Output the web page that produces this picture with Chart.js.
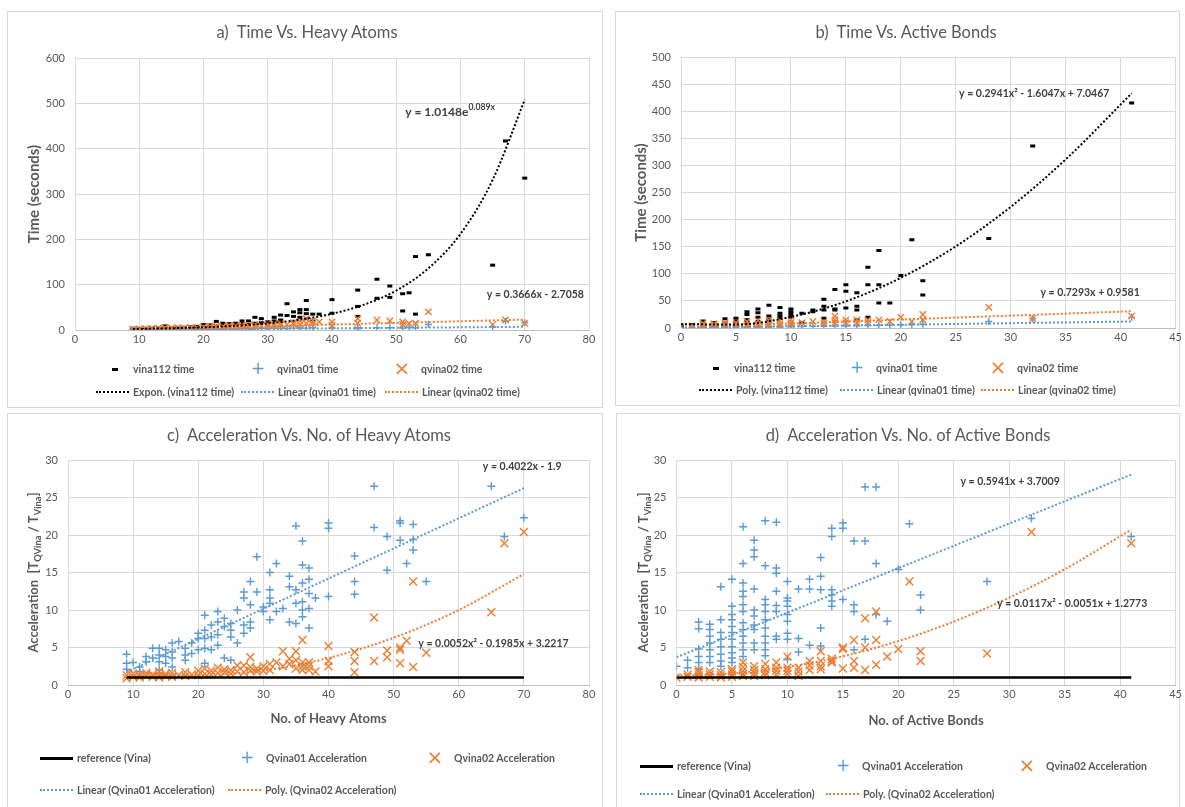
<!DOCTYPE html>
<html>
<head>
<meta charset="utf-8">
<script src="https://cdn.jsdelivr.net/npm/chart.js@4.4.1/dist/chart.umd.min.js"></script>
<style>
  body { margin: 0; background: #fff; }
  #page { position: relative; width: 1185px; height: 807px; overflow: hidden; font-family: Lato, "Open Sans", sans-serif; }
  .panel { position: absolute; border: 1px solid #D9D9D9; box-sizing: border-box; }
  canvas { position: absolute; }
  .ttl { position: absolute; font-size: 16.5px; color: #595959; white-space: nowrap; transform: translate(-50%, -50%); }
  .lg { position: absolute; font-size: 10.5px; font-weight: bold; color: #595959; white-space: nowrap; line-height: 14px; }
  .ln { position: absolute; height: 0; }
  .mk { position: absolute; line-height: 14px; transform: translate(-50%, 0); }
</style>
</head>
<body>
<div id="page">
  <div class="panel" style="left:7px;top:11px;width:596px;height:397px"></div>
  <div class="panel" style="left:615px;top:11px;width:565px;height:395px"></div>
  <div class="panel" style="left:7px;top:413px;width:596px;height:400px"></div>
  <div class="panel" style="left:616px;top:413px;width:564px;height:400px"></div>

  <canvas id="chA" width="596" height="397" style="left:7px;top:11px"></canvas>
  <canvas id="chB" width="570" height="395" style="left:615px;top:11px"></canvas>
  <canvas id="chC" width="596" height="394" style="left:7px;top:413px"></canvas>
  <canvas id="chD" width="569" height="394" style="left:616px;top:413px"></canvas>

  <div class="ttl" style="left:307px;top:32px">a)&nbsp; Time Vs. Heavy Atoms</div>
  <div class="ttl" style="left:906px;top:32px">b)&nbsp; Time Vs. Active Bonds</div>
  <div class="ttl" style="left:309px;top:435px">c)&nbsp; Acceleration Vs. No. of Heavy Atoms</div>
  <div class="ttl" style="left:908px;top:435px">d)&nbsp; Acceleration Vs. No. of Active Bonds</div>
</div>

<script>
// ---- colours (Excel defaults)
const BLUE = '#5B9BD5';
const ORANGE = '#ED7D31';
const GRID = '#D9D9D9';
const TXT = '#595959';
const FONT = 'Lato, "Open Sans", sans-serif';

// ---- a) time vs heavy atoms  [heavy atoms, seconds]
const vinaTimeHA = [[9,1.5],[9,2.5],[10,1.8],[10,3],[11,2.2],[11,3.5],[12,2.5],[12,4],[13,3],[13,5],[14,3.5],[14,9],
  [15,3],[15,5],[16,4],[16,6],[17,4],[17,6],[18,5],[18,7],[19,6],[19,8],[20,7],[20,12],[21,8],[21,11],[22,9],[22,19],
  [23,10],[23,15],[24,11],[24,14],[25,10],[25,15],[26,14],[26,20],[27,12],[27,20],[28,15],[28,28],[29,16],[29,25],
  [30,18],[30,15],[31,20],[31,28],[32,22],[32,33],[33,58],[33,32],[34,30],[34,40],[35,45],[35,38],[35,28],[36,65],
  [36,45],[36,36],[36,25],[37,35],[37,20],[38,35],[40,67],[40,37],[44,88],[44,52],[44,30],[47,112],[47,70],[49,97],
  [49,72],[51,80],[51,42],[52,82],[53,162],[53,35],[55,166],[65,143],[67,417],[70,335]];
const qv01TimeHA = [[9,0.5],[9,1.2],[10,0.6],[11,0.8],[12,0.7],[13,1],[14,1.2],[15,0.9],[16,1.3],[17,1.1],[18,1.6],
  [19,1.4],[20,2],[21,1.8],[22,2.5],[23,2.2],[24,2.6],[25,2.4],[26,3],[27,2.8],[28,3.2],[29,3.5],[30,3.3],[31,3.8],
  [32,4],[33,3.6],[34,4.2],[35,4.5],[36,4.1],[37,4.8],[40,4.5],[44,5.2],[44,2.5],[47,4.8],[49,5],[51,4.2],[52,5.5],
  [53,5],[55,12],[65,6.5],[67,20],[70,16]];
const qv02TimeHA = [[9,1],[9,2],[10,1.5],[10,2.5],[11,2],[11,3],[12,2],[12,3.5],[13,2.5],[13,4],[14,3],[14,5],[15,3],
  [15,4.5],[16,3.5],[16,5],[17,4],[18,4],[18,5.5],[19,4.5],[20,5],[20,7],[21,5],[21,8],[22,6],[22,9],[23,6],[23,8],
  [24,7],[24,10],[25,6],[25,9],[26,7],[26,11],[27,8],[27,10],[28,8],[28,12],[29,9],[30,10],[30,13],[31,10],[31,14],
  [32,11],[32,15],[33,12],[34,13],[34,16],[35,12],[35,20],[36,15],[36,25],[37,14],[37,20],[38,18],[40,10],[40,18],
  [44,15],[44,25],[47,22],[49,20],[51,18],[51,12],[52,14],[53,15],[55,40],[65,12],[67,22],[70,15]];
// trend lines
const expVinaHA = [[9,2.3],[15,3.9],[20,6.0],[25,9.4],[30,14.6],[35,22.9],[40,35.8],[45,56],[50,87],[55,136],[60,212],[65,331],[70,508]];
const linQv01HA = [[9,0.3],[70,7]];
const linQv02HA = [[9,0.6],[70,23]];

// ---- b) time vs active bonds  [active bonds, seconds]
const vinaTimeAB = [[0,3],[0,5],[1,4],[1,6],[2,7],[2,13],[2,4],[3,5],[3,10],[3,7],[4,10],[4,17],[4,6],[5,8],[5,12],
  [5,18],[6,10],[6,15],[6,25],[6,30],[7,12],[7,20],[7,28],[7,35],[8,15],[8,22],[8,42],[9,18],[9,22],[9,27],[9,38],
  [10,20],[10,25],[10,30],[10,35],[11,10],[11,27],[12,30],[12,33],[13,18],[13,33],[13,40],[13,53],[14,33],[14,35],
  [14,71],[15,37],[15,68],[15,80],[16,15],[16,33],[16,40],[16,65],[17,20],[17,80],[17,112],[18,46],[18,80],[18,143],
  [19,46],[20,97],[21,163],[22,61],[22,87],[28,165],[32,336],[41,415]];
const qv01TimeAB = [[0,0.5],[1,0.6],[2,0.8],[2,1.5],[3,1],[3,1.8],[4,1.2],[5,1.4],[5,2],[6,1.6],[6,2.5],[7,1.8],[7,2.8],
  [8,2],[8,3],[9,2.2],[9,3.2],[10,2.5],[10,3.5],[11,2.8],[12,3],[13,3.2],[14,3.5],[15,3.8],[16,4],[17,4.5],[18,5],
  [19,5],[20,6],[21,6.5],[22,7],[28,12],[32,17],[41,20]];
const qv02TimeAB = [[0,3],[1,2],[1,4],[2,2],[2,6],[2,9],[3,2],[3,6],[3,8],[4,3],[4,8],[4,10],[5,2],[5,5],[5,10],[6,3],
  [6,6],[6,12],[7,4],[7,8],[7,14],[8,5],[8,8],[8,14],[9,5],[9,8],[9,14],[10,6],[10,10],[10,15],[11,10],[12,12],[13,8],
  [13,12],[14,10],[14,15],[14,22],[15,10],[15,15],[16,10],[16,15],[17,10],[17,15],[18,15],[19,12],[20,20],[21,12],
  [22,15],[22,25],[28,38],[32,17],[41,22]];
const polyVinaAB = [[0,7.0],[5,6.4],[10,20.4],[15,49.1],[20,92.6],[25,150.7],[30,223.6],[35,311.1],[41,433]];
const linQv01AB = [[0,0.3],[41,12]];
const linQv02AB = [[0,1],[41,30.9]];

// ---- c) acceleration vs heavy atoms
const qv01AccHA = [[9,4.1],[9,2.9],[9,2.1],[10,3.0],[11,2.4],[11,1.8],[12,3.8],[12,3.1],[13,3.6],[13,4.9],[14,4.9],
  [14,4.0],[14,3.1],[14,2.0],[15,4.7],[15,3.8],[15,2.9],[16,5.6],[16,4.4],[16,3.6],[16,2.4],[17,5.8],[18,4.9],[18,4.0],
  [18,3.3],[19,5.6],[19,4.2],[20,6.2],[20,4.7],[20,6.9],[21,9.3],[21,7.3],[21,6.2],[21,4.9],[21,2.9],[22,8.0],[22,6.4],
  [22,4.7],[23,9.8],[23,8.4],[23,6.7],[23,5.3],[24,8.9],[24,7.8],[24,3.6],[25,8.2],[25,7.3],[25,6.4],[25,3.3],[26,10.0],
  [26,5.6],[27,12.4],[27,11.6],[27,8.0],[27,6.9],[28,13.8],[28,10.7],[28,8.4],[28,7.6],[29,17.1],[29,12.4],[30,10.4],
  [30,9.8],[31,15.0],[31,12.7],[31,11.6],[31,10.9],[31,8.7],[32,16.2],[32,9.8],[33,10.2],[34,14.5],[34,13.1],[34,8.4],
  [35,21.2],[35,12.7],[35,10.9],[35,8.2],[36,19.2],[36,16.0],[36,13.6],[36,11.1],[36,10.0],[36,9.1],[37,15.6],[37,14.1],
  [37,12.2],[37,10.2],[37,7.6],[38,11.6],[40,21.6],[40,20.9],[40,11.8],[44,17.2],[44,13.8],[44,12.1],[47,26.5],[47,21.0],
  [49,19.8],[49,15.3],[51,21.9],[51,21.6],[51,19.3],[52,16.2],[53,21.4],[53,19.4],[53,18.0],[55,13.8],[65,26.5],[67,19.8],
  [70,22.3]];
const qv02AccHA = [[9,0.9],[9,1.3],[10,1.1],[10,1.5],[11,1.0],[11,1.3],[12,1.2],[12,1.6],[13,1.1],[13,1.4],[14,1.0],
  [14,1.3],[14,1.8],[15,1.2],[15,1.5],[16,1.1],[16,1.6],[17,1.3],[18,1.2],[18,1.7],[19,1.4],[20,1.3],[20,1.9],[21,1.5],
  [21,2.2],[22,1.4],[22,1.9],[23,1.6],[23,2.3],[24,1.7],[24,2.1],[25,1.5],[25,2.0],[26,1.8],[26,2.6],[27,1.7],[27,2.6],
  [28,1.9],[28,2.4],[28,3.7],[29,1.8],[29,2.2],[30,1.9],[30,2.5],[31,2.0],[31,2.8],[32,3.0],[33,2.5],[33,4.5],[34,2.8],
  [34,3.5],[35,3.3],[35,2.2],[35,4.5],[36,2.0],[36,2.5],[36,3.0],[36,6.0],[37,3.0],[37,2.0],[37,2.5],[38,1.8],[40,5.2],
  [40,3.2],[40,2.5],[44,4.4],[44,3.2],[44,1.7],[47,9.0],[47,3.2],[49,4.6],[49,3.7],[51,5.0],[51,4.7],[51,2.9],[52,5.9],
  [53,13.8],[53,2.4],[55,4.3],[65,9.7],[67,18.9],[70,20.4]];
const refHA = [[9,1],[70,1]];
const linQv01AccHA = [[9,1.72],[70,26.25]];
const polyQv02AccHA = [[9,1.85],[20,1.33],[30,1.94],[40,3.6],[50,6.3],[60,10.0],[70,14.8]];

// ---- d) acceleration vs active bonds
const qv01AccAB = [[0,2.5],[1,3.3],[1,2.3],[2,8.4],[2,7.5],[2,4.8],[2,3.8],[2,3.0],[2,2.1],[3,8.1],[3,7.4],[3,6.5],
  [3,5.6],[3,4.7],[3,3.8],[3,3.0],[4,13.1],[4,8.7],[4,7.0],[4,6.1],[4,5.1],[4,4.1],[4,3.2],[4,2.5],[5,14.1],[5,10.5],
  [5,9.4],[5,8.7],[5,7.8],[5,7.0],[5,6.1],[5,5.1],[5,4.3],[5,3.6],[5,3.0],[6,21.1],[6,16.2],[6,13.6],[6,12.5],[6,11.8],
  [6,10.7],[6,9.8],[6,8.3],[6,7.4],[6,6.5],[6,5.6],[6,4.7],[6,3.8],[7,19.3],[7,18.0],[7,17.1],[7,12.8],[7,10.0],[7,9.2],
  [7,8.0],[7,7.4],[7,5.6],[7,4.7],[8,21.9],[8,15.9],[8,11.4],[8,10.7],[8,9.8],[8,8.7],[8,7.6],[8,6.5],[8,5.6],[8,4.7],
  [8,3.9],[9,21.7],[9,15.6],[9,14.9],[9,12.5],[9,10.6],[9,9.8],[9,6.5],[9,6.1],[10,13.8],[10,11.6],[10,11.2],[10,10.5],
  [10,9.4],[10,8.5],[10,6.9],[10,6.1],[10,3.4],[11,12.8],[11,6.2],[11,4.4],[12,14.1],[12,12.8],[12,5.3],[13,17.0],
  [13,14.5],[13,12.7],[13,7.6],[13,5.2],[14,20.9],[14,19.8],[14,12.7],[14,12.0],[14,11.2],[14,10.5],[15,21.6],[15,20.9],
  [15,11.4],[16,19.2],[16,10.7],[16,9.8],[16,4.7],[17,26.4],[17,19.2],[17,6.1],[18,26.4],[18,16.2],[18,9.4],[19,8.5],
  [20,15.4],[21,21.5],[22,12.0],[22,10.0],[28,13.8],[32,22.2],[41,19.8]];
const qv02AccAB = [[0,1.0],[1,1.1],[1,1.4],[2,1.0],[2,1.3],[2,1.7],[2,2.0],[3,1.1],[3,1.4],[3,1.8],[4,1.0],[4,1.3],
  [4,1.7],[5,1.1],[5,1.4],[5,1.8],[5,2.1],[6,1.2],[6,1.5],[6,1.9],[6,2.4],[6,3.0],[7,1.2],[7,1.6],[7,2.0],[7,2.5],[8,1.3],
  [8,1.7],[8,2.1],[8,2.8],[9,1.4],[9,1.9],[9,2.3],[9,3.0],[10,1.5],[10,1.9],[10,2.3],[10,3.8],[11,1.2],[11,1.8],[11,2.3],
  [12,2.0],[12,2.6],[12,3.2],[13,2.1],[13,2.5],[13,3.2],[13,4.5],[14,3.0],[14,3.2],[14,3.5],[15,5.0],[15,4.8],[15,2.2],
  [16,6.0],[16,3.2],[16,2.3],[17,8.9],[17,5.0],[17,2.0],[18,9.8],[18,6.0],[18,2.7],[19,3.8],[20,4.8],[21,13.8],[22,4.5],
  [22,3.2],[28,4.2],[32,20.4],[41,18.9]];
const refAB = [[0,1],[41,1]];
const linQv01AccAB = [[0,3.7],[41,28.06]];
const polyQv02AccAB = [[0,1.28],[5,1.54],[10,2.40],[15,3.83],[20,5.86],[25,8.46],[30,11.65],[35,15.43],[41,20.72]];

// ---- axis ticks
const ticksHA = {min: 0, max: 80, step: 10};
const ticksAB = {min: 0, max: 45, step: 5};
const ticksTimeHA = {min: 0, max: 600, step: 100};
const ticksTimeAB = {min: 0, max: 500, step: 50};
const ticksAcc = {min: 0, max: 30, step: 5};

function pts(arr) {
  return arr.map(p => ({x: p[0], y: p[1]}));
}

// draws a text made of runs (normal / sup / sub)
function drawRuns(ctx, runs, x, y, size, rotate, center) {
  const widths = runs.map(r => {
    ctx.font = 'bold ' + (r[1] ? size * 0.72 : size) + 'px ' + FONT;
    return ctx.measureText(r[0]).width;
  });
  const total = widths.reduce((a, b) => a + b, 0);
  ctx.save();
  ctx.translate(x, y);
  if (rotate) ctx.rotate(-Math.PI / 2);
  let cx = center ? -total / 2 : 0;
  ctx.textBaseline = 'middle';
  ctx.textAlign = 'left';
  runs.forEach((r, i) => {
    ctx.font = 'bold ' + (r[1] ? size * 0.72 : size) + 'px ' + FONT;
    let dy = 0;
    if (r[1] === 'sup') dy = -size * 0.38;
    if (r[1] === 'sub') dy = size * 0.3;
    ctx.fillText(r[0], cx, dy);
    cx += widths[i];
  });
  ctx.restore();
}

const extraText = {
  id: 'extraText',
  afterDraw(chart, args, opts) {
    const ctx = chart.ctx;
    (opts.labels || []).forEach(l => {
      ctx.fillStyle = '#404040';
      drawRuns(ctx, l.runs, chart.scales.x.getPixelForValue(l.x), chart.scales.y.getPixelForValue(l.y), l.size || 10.5, false, false);
    });
    if (opts.yTitle) {
      ctx.fillStyle = TXT;
      const a = chart.chartArea;
      drawRuns(ctx, opts.yTitle, opts.yTitleX, (a.top + a.bottom) / 2, 13, true, true);
    }
  }
};
Chart.register(extraText);

function scatterSet(data, style, color, r, order) {
  return {
    data: pts(data), pointStyle: style, radius: r, pointRadius: r,
    borderColor: color, backgroundColor: color, borderWidth: style === 'line' ? 3 : 1.4,
    showLine: false, order: order
  };
}
function trendSet(data, color, order) {
  return {
    data: pts(data), showLine: true, pointRadius: 0, borderColor: color,
    borderWidth: 2, borderDash: [2, 2], fill: false, cubicInterpolationMode: 'monotone', order: order
  };
}
function solidSet(data) {
  return {data: pts(data), showLine: true, pointRadius: 0, borderColor: '#000', borderWidth: 2.5, order: 1};
}

function makeChart(id, c) {
  return new Chart(document.getElementById(id), {
    type: 'scatter',
    data: {datasets: c.datasets},
    options: {
      responsive: false, animation: false, devicePixelRatio: 1,
      layout: {padding: c.pad},
      plugins: {
        legend: {display: false}, tooltip: {enabled: false},
        extraText: {labels: c.labels, yTitle: c.yRich, yTitleX: c.yRichX}
      },
      scales: {
        x: {
          type: 'linear', min: c.xt.min, max: c.xt.max,
          ticks: {stepSize: c.xt.step, color: TXT, font: {size: 11, family: FONT}, padding: 3, maxRotation: 0},
          grid: {color: GRID, drawTicks: false}, border: {color: '#BFBFBF'},
          title: c.xTitle ? {display: true, text: c.xTitle, color: TXT, font: {size: 13, weight: 'bold', family: FONT}} : {display: false},
          afterFit: s => { s.height = c.xH; }
        },
        y: {
          min: c.yt.min, max: c.yt.max,
          ticks: {stepSize: c.yt.step, color: TXT, font: {size: 11, family: FONT}, padding: 10},
          grid: {color: GRID, drawTicks: false}, border: {color: GRID},
          title: c.yTitle ? {display: true, text: c.yTitle, color: TXT, font: {size: 15, weight: 'bold', family: FONT}, padding: {top: 3, bottom: 3}} : {display: false},
          afterFit: s => { s.width = c.yW; }
        }
      }
    }
  });
}

makeChart('chA', {
  xt: ticksHA, yt: ticksTimeHA, yTitle: 'Time (seconds)',
  pad: {left: 15, right: 14, top: 47, bottom: 58}, yW: 53, xH: 20,
  datasets: [
    trendSet(expVinaHA, '#000', 0), trendSet(linQv01HA, BLUE, 0), trendSet(linQv02HA, ORANGE, 0),
    scatterSet(qv02TimeHA, 'crossRot', ORANGE, 4.5, 1),
    scatterSet(qv01TimeHA, 'cross', BLUE, 3.5, 2),
    scatterSet(vinaTimeHA, 'line', '#000', 2.5, 3)
  ],
  labels: [
    {runs: [['y = 1.0148e'], ['0.089x', 'sup']], x: 51.4, y: 481, size: 12},
    {runs: [['y = 0.3666x - 2.7058']], x: 64.1, y: 79}
  ]
});

makeChart('chB', {
  xt: ticksAB, yt: ticksTimeAB, yTitle: 'Time (seconds)',
  pad: {left: 14, right: 9, top: 46, bottom: 58}, yW: 52, xH: 20,
  datasets: [
    trendSet(polyVinaAB, '#000', 0), trendSet(linQv01AB, BLUE, 0), trendSet(linQv02AB, ORANGE, 0),
    scatterSet(qv02TimeAB, 'crossRot', ORANGE, 4.5, 1),
    scatterSet(qv01TimeAB, 'cross', BLUE, 3.5, 2),
    scatterSet(vinaTimeAB, 'line', '#000', 2.5, 3)
  ],
  labels: [
    {runs: [['y = 0.2941x² - 1.6047x + 7.0467']], x: 25.3, y: 432},
    {runs: [['y = 0.7293x + 0.9581']], x: 32.7, y: 66}
  ]
});

const accTitle = [['Acceleration  [T'], ['QVina', 'sub'], [' / T'], ['Vina', 'sub'], [']']];

makeChart('chC', {
  xt: ticksHA, yt: ticksAcc, xTitle: 'No. of Heavy Atoms',
  pad: {left: 15, right: 14, top: 47, bottom: 76}, yW: 46, xH: 46,
  yRich: accTitle, yRichX: 27,
  datasets: [
    trendSet(linQv01AccHA, BLUE, 0), trendSet(polyQv02AccHA, ORANGE, 0),
    solidSet(refHA),
    scatterSet(qv02AccHA, 'crossRot', ORANGE, 5.5, 2),
    scatterSet(qv01AccHA, 'cross', BLUE, 4, 3)
  ],
  labels: [
    {runs: [['y = 0.4022x - 1.9']], x: 63.7, y: 29.1},
    {runs: [['y = 0.0052x² - 0.1985x + 3.2217']], x: 53.8, y: 5.5}
  ]
});

makeChart('chD', {
  xt: ticksAB, yt: ticksAcc, xTitle: 'No. of Active Bonds',
  pad: {left: 15, right: 7.4, top: 47, bottom: 74}, yW: 45.5, xH: 48,
  yRich: accTitle, yRichX: 28,
  datasets: [
    trendSet(linQv01AccAB, BLUE, 0), trendSet(polyQv02AccAB, ORANGE, 0),
    solidSet(refAB),
    scatterSet(qv02AccAB, 'crossRot', ORANGE, 5.5, 2),
    scatterSet(qv01AccAB, 'cross', BLUE, 4, 3)
  ],
  labels: [
    {runs: [['y = 0.5941x + 3.7009']], x: 25.6, y: 27.1},
    {runs: [['y = 0.0117x² - 0.0051x + 1.2773']], x: 28.9, y: 10.8}
  ]
});

// ---- legends (html), icon kinds: dash, plus, cross, dot-line, solid
const legendA = [
  ['dash', '#000', 115, 369, 'vina112 time'], ['plus', BLUE, 258, 369, 'qvina01 time'], ['cross', ORANGE, 402, 369, 'qvina02 time'],
  ['dots', '#000', 96, 392, 'Expon. (vina112 time)'], ['dots', BLUE, 241, 392, 'Linear (qvina01 time)'], ['dots', ORANGE, 385, 392, 'Linear (qvina02 time)']
];
const legendB = [
  ['dash', '#000', 716, 368, 'vina112 time'], ['plus', BLUE, 857, 368, 'qvina01 time'], ['cross', ORANGE, 998, 368, 'qvina02 time'],
  ['dots', '#000', 699, 390, 'Poly. (vina112 time)'], ['dots', BLUE, 840, 390, 'Linear (qvina01 time)'], ['dots', ORANGE, 981, 390, 'Linear (qvina02 time)']
];
const legendC = [
  ['solid', '#000', 40, 758, 'reference (Vina)'], ['plus', BLUE, 247, 758, 'Qvina01 Acceleration'], ['cross', ORANGE, 435, 758, 'Qvina02 Acceleration'],
  ['dots', BLUE, 40, 790, 'Linear (Qvina01 Acceleration)'], ['dots', ORANGE, 228, 790, 'Poly. (Qvina02 Acceleration)']
];
const legendD = [
  ['solid', '#000', 640, 766, 'reference (Vina)'], ['plus', BLUE, 843, 766, 'Qvina01 Acceleration'], ['cross', ORANGE, 1027, 766, 'Qvina02 Acceleration'],
  ['dots', BLUE, 640, 794, 'Linear (Qvina01 Acceleration)'], ['dots', ORANGE, 826, 794, 'Poly. (Qvina02 Acceleration)']
];

const page = document.getElementById('page');
function addLegend(items) {
  items.forEach(it => {
    const [kind, color, x, y, label] = it;
    const icon = document.createElement('div');
    let textX;
    if (kind === 'dash') {
      icon.className = 'ln';
      icon.style.cssText = `left:${x - 3}px;top:${y - 1}px;width:6px;height:3px;background:${color}`;
      textX = x + 18;
    } else if (kind === 'plus' || kind === 'cross') {
      icon.className = 'mk';
      icon.textContent = kind === 'plus' ? '+' : '×';
      icon.style.cssText = `left:${x}px;top:${y - 8}px;color:${color};font-size:${kind === 'plus' ? 17 : 20}px;font-family:"DejaVu Sans"`;
      textX = x + 19;
    } else {
      icon.className = 'ln';
      const st = kind === 'solid' ? `3px solid ${color}` : `2px dotted ${color}`;
      icon.style.cssText = `left:${x}px;top:${y - 1}px;width:33px;border-top:${st}`;
      textX = x + 37;
    }
    page.appendChild(icon);
    const t = document.createElement('div');
    t.className = 'lg';
    t.textContent = label;
    t.style.left = textX + 'px';
    t.style.top = (y - 7) + 'px';
    page.appendChild(t);
  });
}
addLegend(legendA);
addLegend(legendB);
addLegend(legendC);
addLegend(legendD);
</script>
</body>
</html>
